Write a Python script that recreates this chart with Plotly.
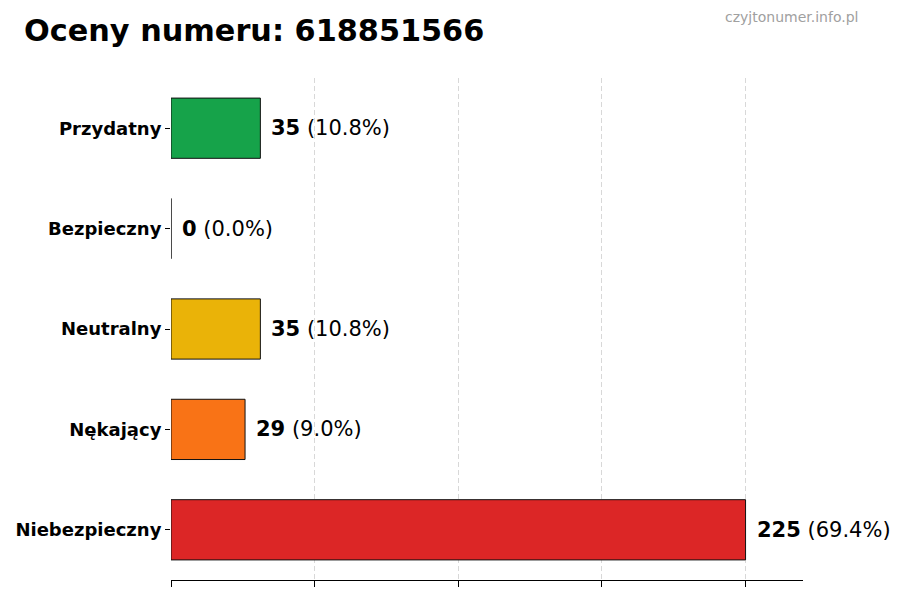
import plotly.graph_objects as go

categories = ["Przydatny", "Bezpieczny", "Neutralny", "Nękający", "Niebezpieczny"]
counts = [35, 0, 35, 29, 225]
percents = [10.8, 0.0, 10.8, 9.0, 69.4]
colors = ["#16a34a", "#0ea5e9", "#eab308", "#f97316", "#dc2626"]

x_max = max(counts) * 1.1
tick_vals = [max(counts) * i / 4 for i in range(5)]

fig = go.Figure()

fig.add_trace(go.Bar(
    x=counts, y=categories, orientation="h",
    marker=dict(color=colors, line=dict(color="#111111", width=1)),
    width=0.6, hoverinfo="x+y",
))

# etykiety wartości przy słupkach
for c, n, p in zip(categories, counts, percents):
    fig.add_annotation(
        x=n, y=c, xref="x", yref="y",
        text=f"<b>{n}</b> ({p:.1f}%)",
        showarrow=False, xanchor="left", yanchor="middle", xshift=9,
        font=dict(family="DejaVu Sans", size=21, color="#000000"),
    )

fig.add_annotation(
    text="<b>Oceny numeru: 618851566</b>",
    xref="paper", yref="paper", x=-0.2358, y=1.0956,
    xanchor="left", yanchor="middle", showarrow=False,
    font=dict(family="DejaVu Sans", size=30.3, color="#000000"),
)
fig.add_annotation(
    text="czyjtonumer.info.pl",
    xref="paper", yref="paper", x=1.0902, y=1.1215,
    xanchor="right", yanchor="middle", showarrow=False,
    font=dict(family="DejaVu Sans", size=14, color="#a0a0a0"),
)

fig.update_layout(
    width=900, height=600,
    margin=dict(l=163, r=105, t=70, b=28),
    plot_bgcolor="white", paper_bgcolor="white",
    showlegend=False,
    font=dict(family="DejaVu Sans", color="#000000"),
)
fig.update_xaxes(
    range=[0, x_max], tickvals=tick_vals, showticklabels=False,
    ticks="outside", ticklen=6, tickcolor="#000000",
    showgrid=True, gridcolor="rgba(200,200,200,0.7)", griddash="5px,3px", gridwidth=1,
    showline=True, linecolor="#000000", linewidth=1,
    zeroline=False, layer="above traces", automargin=False,
)
fig.update_yaxes(
    autorange=False, range=[4.5, -0.5],
    ticks="outside", ticklen=5, tickcolor="#000000",
    tickfont=dict(family="DejaVu Sans", size=18, color="#000000", weight="bold"),
    showgrid=False, showline=False, zeroline=False, automargin=False,
)

fig.write_html("out.html")
